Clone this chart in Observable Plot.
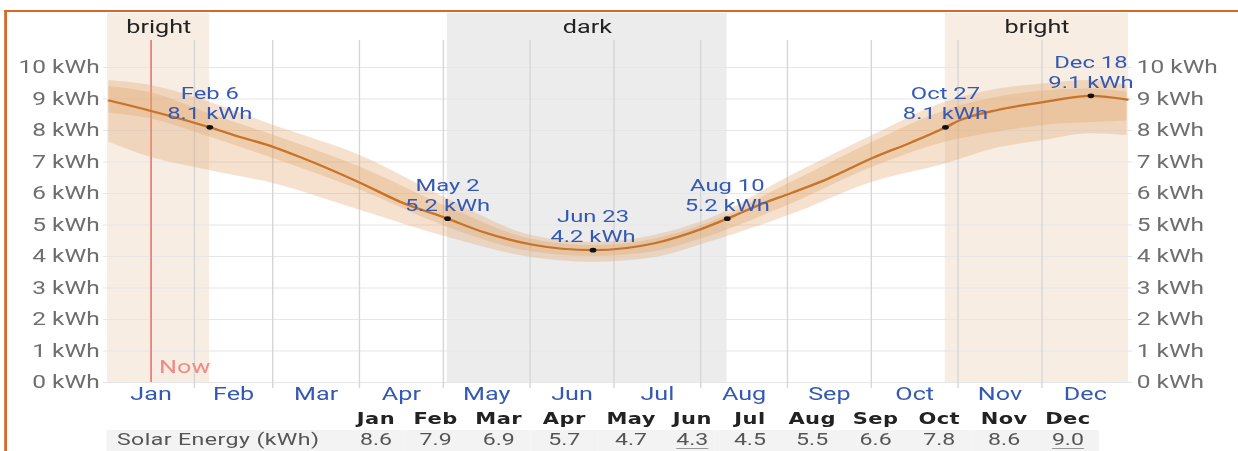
<!DOCTYPE html>
<html>
<head>
<meta charset="utf-8">
<script src="https://cdn.jsdelivr.net/npm/d3@7"></script>
<script src="https://cdn.jsdelivr.net/npm/@observablehq/plot@0.6"></script>
<style>
  html, body { margin: 0; padding: 0; background: #fff; }
  body { width: 1238px; height: 451px; overflow: hidden; position: relative; font-family: Roboto, sans-serif; }
  #stage { position: absolute; left: 0; top: 0; width: 884.3px; height: 451px; transform: scaleX(1.4); transform-origin: 0 0; }
  #chart svg { position: absolute; left: 0; top: 0; }
  .edge { position: absolute; background: #d4692a; z-index: 3; }
  #edgeTop { left: 2.86px; top: 10px; width: 900px; height: 2px; }
  #edgeLeft { left: 2.86px; top: 10px; width: 1.8px; height: 460px; }
  #table { position: absolute; left: 76.43px; top: 409px; border-collapse: collapse; table-layout: fixed; }
  #table td, #table th { padding: 0; height: 21px; line-height: 21px; white-space: nowrap; overflow: visible; }
  #table th { font-family: 'DejaVu Sans', sans-serif; font-weight: bold; font-size: 15px; color: #222; text-align: center; letter-spacing: 0.3px; }
  #table tr.vals td { background: #f3f3f3; font-family: Roboto, sans-serif; font-size: 16.5px; color: #555; text-align: center; }
  #table tr.vals td span { position: relative; top: -1.5px; }
  #table tr.vals td.rowlabel { text-align: left; padding-left: 7.1px; color: #555; letter-spacing: 0.3px; }
  #table span.ext { text-decoration: underline; text-decoration-color: #9a9a9a; text-underline-offset: 3px; }
</style>
</head>
<body>
<div id="stage">
  <div id="chart"></div>
  <table id="table"></table>
  <div class="edge" id="edgeTop"></div>
  <div class="edge" id="edgeLeft"></div>
</div>
<script>
// ---------- data ----------
const yTicks = [0, 1, 2, 3, 4, 5, 6, 7, 8, 9, 10];

// average daily solar energy (kWh), read at sample dates
const lineDates = ["2023-01-01","2023-01-16","2023-02-06","2023-02-15","2023-03-01","2023-03-11","2023-04-01","2023-04-15","2023-05-02","2023-05-15","2023-06-01","2023-06-23","2023-07-15","2023-08-01","2023-08-10","2023-08-22","2023-09-02","2023-09-15","2023-10-01","2023-10-15","2023-10-27","2023-11-01","2023-11-15","2023-12-01","2023-12-18","2023-12-31"];
const lineValues = [8.95, 8.62, 8.10, 7.84, 7.47, 7.13, 6.33, 5.74, 5.20, 4.77, 4.38, 4.20, 4.42, 4.88, 5.20, 5.66, 6.02, 6.47, 7.13, 7.63, 8.10, 8.32, 8.66, 8.90, 9.10, 8.98];

// percentile bands
const bandDates = ["2023-01-01","2023-01-16","2023-02-06","2023-03-01","2023-04-01","2023-05-02","2023-06-01","2023-06-23","2023-07-15","2023-08-01","2023-09-02","2023-10-01","2023-10-27","2023-11-15","2023-12-01","2023-12-18","2023-12-31"];
const bandP90 = [9.59, 9.43, 8.90, 8.16, 7.20, 5.83, 4.67, 4.45, 4.67, 5.10, 6.57, 7.84, 8.90, 9.32, 9.48, 9.59, 9.43];
const bandP75 = [9.40, 9.20, 8.53, 7.84, 6.83, 5.57, 4.55, 4.35, 4.55, 4.98, 6.36, 7.63, 8.63, 9.06, 9.25, 9.32, 9.22];
const bandP25 = [8.55, 8.37, 7.79, 7.10, 6.10, 4.93, 4.15, 4.00, 4.15, 4.56, 5.67, 6.83, 7.63, 7.95, 8.16, 8.25, 8.30];
const bandP10 = [7.63, 7.15, 6.73, 6.31, 5.46, 4.61, 3.97, 3.82, 3.96, 4.38, 5.33, 6.36, 6.94, 7.45, 7.68, 7.90, 7.84];

// annotated events
const eventDates = ["2023-02-06","2023-05-02","2023-06-23","2023-08-10","2023-10-27","2023-12-18"];
const eventLabels = ["Feb 6","May 2","Jun 23","Aug 10","Oct 27","Dec 18"];
const eventValues = [8.1, 5.2, 4.2, 5.2, 8.1, 9.1];

// bright / dark periods
const regionLabels = ["bright", "dark", "bright"];
const regionStarts = ["2023-01-01T00:00:00Z", "2023-05-02T12:00:00Z", "2023-10-27T12:00:00Z"];
const regionEnds   = ["2023-02-06T12:00:00Z", "2023-08-10T12:00:00Z", "2024-01-01T00:00:00Z"];

const nowDate = "2023-01-16";
const nowLabel = "Now";

// monthly table
const months = ["Jan","Feb","Mar","Apr","May","Jun","Jul","Aug","Sep","Oct","Nov","Dec"];
const monthlyEnergy = [8.6, 7.9, 6.9, 5.7, 4.7, 4.3, 4.5, 5.5, 6.6, 7.8, 8.6, 9.0];
const rowLabel = "Solar Energy (kWh)";

// ---------- layout ----------
const S = 1.4;                 // horizontal stretch of the stage
const W = 1238 / S;
const blue = "#3459b5";
const noon = s => new Date(s + "T12:00:00Z");

const line = lineDates.map((d, i) => ({date: noon(d), value: lineValues[i]}));
const band = bandDates.map((d, i) => ({date: noon(d), p90: bandP90[i], p75: bandP75[i], p25: bandP25[i], p10: bandP10[i]}));
const events = eventDates.map((d, i) => ({date: noon(d), label: eventLabels[i], value: eventValues[i]}));
const regions = regionLabels.map((l, i) => ({label: l, start: new Date(regionStarts[i]), end: new Date(regionEnds[i])}));
const nowData = [{date: noon(nowDate), label: nowLabel}];

const yearStart = new Date("2023-01-01T00:00:00Z");
const yearEnd = new Date("2024-01-01T00:00:00Z");
const monthStarts = d3.utcMonths(yearStart, yearEnd);
const monthMids = monthStarts.map(m => new Date((+m + +d3.utcMonth.offset(m, 1)) / 2));
const gridMonths = monthStarts.slice(1);

const chart = Plot.plot({
  width: W,
  height: 409,
  marginLeft: 107 / S,
  marginRight: W - 1128 / S,
  marginTop: 67,
  marginBottom: 27,
  x: {type: "utc", domain: [yearStart, yearEnd]},
  y: {domain: [0, 10]},
  style: {fontFamily: "Roboto, sans-serif", fontSize: "17.5px", background: "transparent", overflow: "visible"},
  marks: [
    Plot.rect(regions.filter(d => d.label === "bright"), {x1: "start", x2: "end", fill: "#f7ede3", insetTop: -54}),
    Plot.rect(regions.filter(d => d.label === "dark"), {x1: "start", x2: "end", fill: "#ececec", insetTop: -54}),
    Plot.ruleY(yTicks, {stroke: "#e6e6e6", insetLeft: -3, insetRight: -3}),
    Plot.ruleX(gridMonths, {stroke: "#d6d6d6", insetTop: -27, insetBottom: -6}),
    Plot.ruleX(nowData, {x: "date", stroke: "#ee6b6b", strokeWidth: 1.1, insetTop: -27}),
    Plot.areaY(band, {x: "date", y1: "p10", y2: "p90", fill: "#e2a56a", fillOpacity: 0.33, curve: "monotone-x"}),
    Plot.areaY(band, {x: "date", y1: "p25", y2: "p75", fill: "#e2a56a", fillOpacity: 0.33, curve: "monotone-x"}),
    Plot.line(line, {x: "date", y: "value", stroke: "#c8732a", strokeWidth: 2.2, curve: "monotone-x"}),
    Plot.dot(events, {x: "date", y: "value", r: 2.4, fill: "#111"}),
    Plot.text(events, {x: "date", y: "value", text: d => `${d.label}\n${d.value.toFixed(1)} kWh`, lineAnchor: "bottom", dy: -8, fill: blue, fontSize: 17, lineHeight: 1.18}),
    Plot.text(regions, {x: d => new Date((+d.start + +d.end) / 2), text: "label", frameAnchor: "top", lineAnchor: "bottom", dy: -34, fill: "#222", fontSize: 18}),
    Plot.text(nowData, {x: "date", text: "label", frameAnchor: "bottom", lineAnchor: "bottom", textAnchor: "start", dx: 8 / S, dy: -9, fill: "#f08a84", fontSize: 18}),
    Plot.axisX(monthMids, {tickSize: 0, tickPadding: 5, tickFormat: d3.utcFormat("%b"), color: blue, fontSize: 18, label: null}),
    Plot.axisY(yTicks, {anchor: "left", tickSize: 0, tickPadding: 8 / S, tickFormat: d => `${d} kWh`, color: "#6e6e6e", fontSize: 17.5, label: null}),
    Plot.axisY(yTicks, {anchor: "right", tickSize: 0, tickPadding: 8 / S, tickFormat: d => `${d} kWh`, color: "#6e6e6e", fontSize: 17.5, label: null})
  ]
});
document.getElementById("chart").appendChild(chart);

// ---------- table ----------
const colWidthsPage = [240.25, 57.5, 61.75, 64.5, 66.75, 66.75, 55.75, 59.5, 65, 62, 65.25, 64.5, 63];
const table = document.getElementById("table");
const colgroup = document.createElement("colgroup");
colWidthsPage.forEach(w => {
  const c = document.createElement("col");
  c.style.width = (w / S) + "px";
  colgroup.appendChild(c);
});
table.appendChild(colgroup);
table.style.width = (d3.sum(colWidthsPage) / S) + "px";

const head = document.createElement("tr");
head.appendChild(document.createElement("th"));
months.forEach(m => {
  const th = document.createElement("th");
  th.textContent = m;
  head.appendChild(th);
});
table.appendChild(head);

const lo = d3.min(monthlyEnergy), hi = d3.max(monthlyEnergy);
const vals = document.createElement("tr");
vals.className = "vals";
const lab = document.createElement("td");
lab.className = "rowlabel";
lab.innerHTML = `<span>${rowLabel}</span>`;
vals.appendChild(lab);
monthlyEnergy.forEach(v => {
  const td = document.createElement("td");
  const sp = document.createElement("span");
  sp.textContent = v.toFixed(1);
  if (v === lo || v === hi) sp.className = "ext";
  td.appendChild(sp);
  vals.appendChild(td);
});
table.appendChild(vals);
</script>
</body>
</html>
